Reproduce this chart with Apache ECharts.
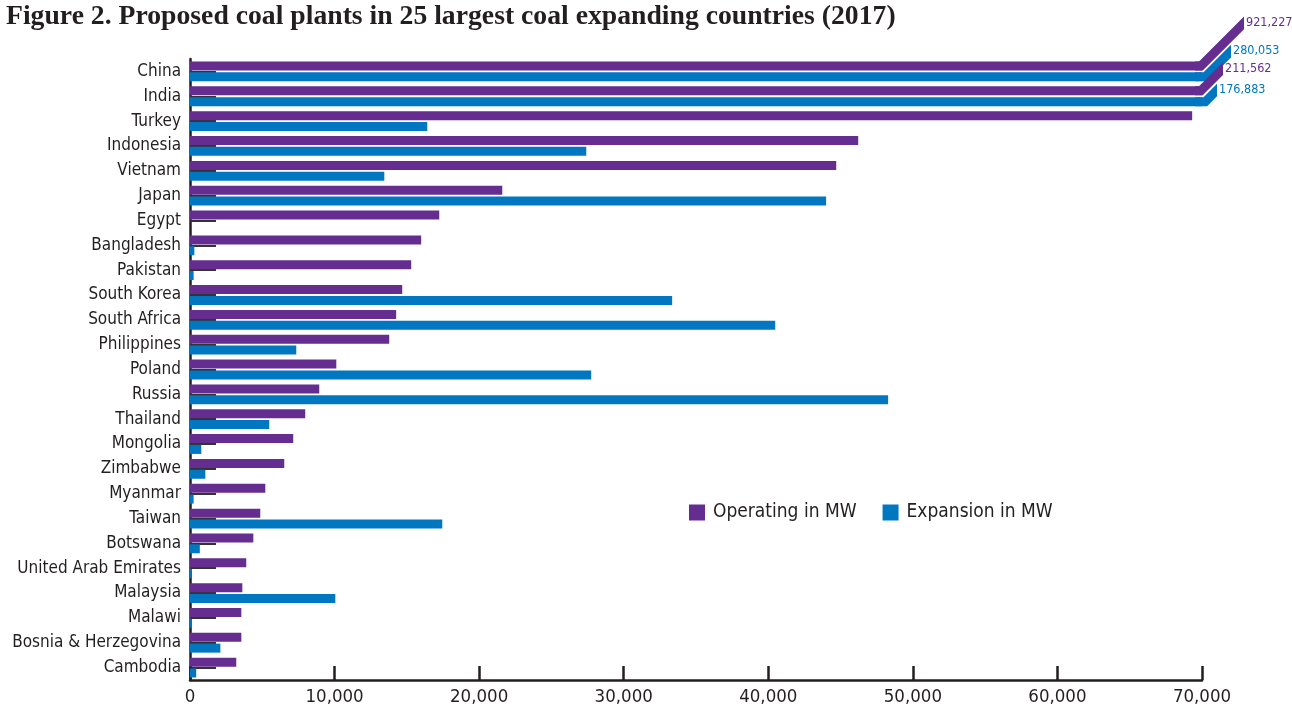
<!DOCTYPE html>
<html>
<head>
<meta charset="utf-8">
<title>Proposed coal plants</title>
<script src="https://cdn.jsdelivr.net/npm/echarts@6/dist/echarts.min.js"></script>
<style>
    html, body { margin: 0; padding: 0; background: #fff; }
    #chart { width: 1292px; height: 713px; }
</style>
</head>
<body>
<div id="chart"></div>
<script>
// Data (MW)
const countries = ['China', 'India', 'Turkey', 'Indonesia', 'Vietnam', 'Japan', 'Egypt', 'Bangladesh',
    'Pakistan', 'South Korea', 'South Africa', 'Philippines', 'Poland', 'Russia', 'Thailand', 'Mongolia',
    'Zimbabwe', 'Myanmar', 'Taiwan', 'Botswana', 'United Arab Emirates', 'Malaysia', 'Malawi',
    'Bosnia & Herzegovina', 'Cambodia'];
const operating = [921227, 211562, 69320, 46220, 44700, 21600, 17240, 15990, 15300, 14680, 14260, 13780,
    10120, 8940, 7970, 7140, 6520, 5210, 4860, 4380, 3890, 3620, 3550, 3550, 3200];
const expansion = [280053, 176883, 16410, 27410, 13440, 44000, 0, 300, 250, 33350, 40480, 7350,
    27750, 48290, 5480, 780, 1060, 250, 17450, 680, 100, 10050, 80, 2100, 430];
const xTicks = [0, 10000, 20000, 30000, 40000, 50000, 60000, 70000];

const axisMax = xTicks[xTicks.length - 1];
const PURPLE = '#652d90';
const BLUE = '#0077c0';
const INK = '#231f20';
const NARROW = '"Liberation Sans Narrow", "DejaVu Sans Condensed", sans-serif';
const BAR_W = 9;
const BAR_GAP = 1.8;

// bars past the axis end get a diagonal break with the real value
const breaks = [];
countries.forEach((c, i) => {
    if (operating[i] > axisMax) breaks.push([i, 0, operating[i]]);
    if (expansion[i] > axisMax) breaks.push([i, 1, expansion[i]]);
});
// how far right each break runs before its label (px)
const breakRun = [45, 32, 24, 18];
const MITRE = Math.tan(Math.PI / 8);

function renderBreak(params, api) {
    const cat = api.value(0);
    const which = api.value(1);
    const real = api.value(2);
    const p = api.coord([axisMax, cat]);
    const x0 = p[0] - 3;
    const refTop = p[1] - BAR_GAP / 2 - BAR_W;
    const top = which === 0 ? refTop : p[1] + BAR_GAP / 2;
    const bot = top + BAR_W;
    const xa = x0 + (top - refTop) * MITRE;
    const xc = x0 + (bot - refTop) * MITRE;
    const xe = x0 + (breakRun[params.dataIndex] || 20);
    const color = which === 0 ? PURPLE : BLUE;
    const endTop = top - (xe - xa);
    const endBot = bot - (xe - xc);
    return {
        type: 'group',
        children: [{
            type: 'polygon',
            shape: { points: [[x0 - 4, top], [xa, top], [xe, endTop], [xe, endBot], [xc, bot], [x0 - 4, bot]] },
            style: { fill: color }
        }, {
            type: 'text',
            x: xe + 2,
            y: (endTop + endBot) / 2,
            style: {
                text: real.toLocaleString('en-US'),
                fill: color,
                font: '12.5px ' + NARROW,
                verticalAlign: 'middle',
                align: 'left'
            }
        }]
    };
}

const chart = echarts.init(document.getElementById('chart'));
chart.setOption({
    animation: false,
    title: {
        text: 'Figure 2. Proposed coal plants in 25 largest coal expanding countries (2017)',
        left: 6,
        top: 3,
        padding: 0,
        textStyle: { fontFamily: '"Liberation Serif", serif', fontWeight: 'bold', fontSize: 27.7, color: INK }
    },
    legend: {
        data: ['Operating in MW', 'Expansion in MW'],
        left: 684,
        top: 498,
        icon: 'rect',
        itemWidth: 16,
        itemHeight: 16,
        itemGap: 26,
        textStyle: { fontFamily: NARROW, fontSize: 19, color: INK, padding: [0, 0, 0, 3] }
    },
    grid: { left: 190, right: 90, top: 59, bottom: 33, containLabel: false, outerBoundsMode: 'none' },
    xAxis: {
        type: 'value',
        min: 0,
        max: axisMax,
        interval: 10000,
        axisLine: { show: true, lineStyle: { color: INK, width: 2.5 } },
        axisTick: { show: true, inside: true, length: 14, lineStyle: { color: INK, width: 2.5 } },
        splitLine: { show: false },
        axisLabel: {
            margin: 8,
            fontFamily: NARROW,
            fontSize: 18.5,
            color: INK,
            formatter: v => xTicks.includes(v) ? v.toLocaleString('en-US') : ''
        }
    },
    yAxis: {
        type: 'category',
        data: countries,
        inverse: true,
        axisLine: { show: true, lineStyle: { color: INK, width: 2.5 } },
        axisTick: { show: true, inside: true, alignWithLabel: true, length: 26, lineStyle: { color: '#333', width: 2 } },
        axisLabel: { interval: 0, margin: 9, fontFamily: NARROW, fontSize: 17, color: INK }
    },
    series: [{
        name: 'Operating in MW',
        type: 'bar',
        data: operating.map(v => Math.min(v, axisMax)),
        barWidth: BAR_W,
        barGap: '20%',
        itemStyle: { color: PURPLE }
    }, {
        name: 'Expansion in MW',
        type: 'bar',
        data: expansion.map(v => Math.min(v, axisMax)),
        barWidth: BAR_W,
        barGap: '20%',
        itemStyle: { color: BLUE }
    }, {
        type: 'custom',
        renderItem: renderBreak,
        data: breaks,
        clip: false,
        z: 5,
        silent: true,
        encode: { x: 2, y: 0 }
    }]
});
</script>
</body>
</html>
